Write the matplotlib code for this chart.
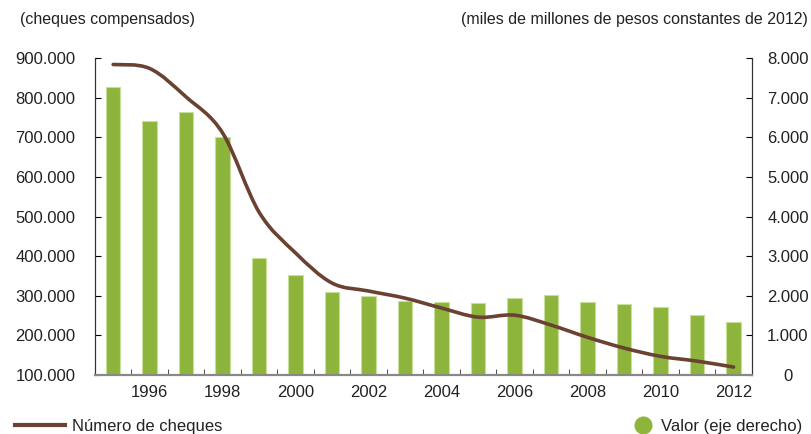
import numpy as np
import matplotlib
matplotlib.use("Agg")
import matplotlib.pyplot as plt
from matplotlib.path import Path
from matplotlib.patches import PathPatch
from matplotlib.lines import Line2D
from matplotlib.ticker import FuncFormatter

plt.rcParams["font.family"] = ["Liberation Sans", "DejaVu Sans"]

# datos
years = list(range(1995, 2013))
cheques = [884000, 874000, 802000, 711000, 511000, 408000, 332000, 312000, 294000,
           269000, 246000, 251000, 226000, 195000, 168000, 147000, 135000, 120000]
valor = [7280, 6410, 6640, 6020, 2950, 2520, 2100, 1990, 1870,
         1840, 1820, 1950, 2010, 1840, 1790, 1710, 1510, 1350]
year_labels = [1996, 1998, 2000, 2002, 2004, 2006, 2008, 2010, 2012]

bar_color = "#8db53c"
line_color = "#6b4232"
text_color = "#222222"


def dotted(v, pos):
    return f"{int(round(v)):,}".replace(",", ".")


fig = plt.figure(figsize=(8.11, 4.34), dpi=100)
ax = fig.add_axes([0.117, 0.136, 0.81, 0.73])
ax2 = ax.twinx()

# barras en el eje derecho
ax2.bar(years, valor, width=0.4, color=bar_color, edgecolor="#c8df9a", linewidth=0.8, zorder=1)
ax2.set_ylim(0, 8000)
ax2.set_yticks(range(0, 8001, 1000))
ax2.set_yticklabels([dotted(v, None) for v in range(0, 8001, 1000)], ha="center")

# linea suavizada (Catmull-Rom -> Bezier) en el eje izquierdo
x = np.array(years, dtype=float)
y = np.array(cheques, dtype=float)
px = np.concatenate([[x[0]], x, [x[-1]]])
py = np.concatenate([[y[0]], y, [y[-1]]])
verts = [(x[0], y[0])]
codes = [Path.MOVETO]
for i in range(1, len(px) - 2):
    c1 = (px[i] + (px[i + 1] - px[i - 1]) / 6, py[i] + (py[i + 1] - py[i - 1]) / 6)
    c2 = (px[i + 1] - (px[i + 2] - px[i]) / 6, py[i + 1] - (py[i + 2] - py[i]) / 6)
    verts += [c1, c2, (px[i + 1], py[i + 1])]
    codes += [Path.CURVE4] * 3
ax.set_zorder(ax2.get_zorder() + 1)
ax.patch.set_visible(False)
ax.add_patch(PathPatch(Path(verts, codes), facecolor="none", edgecolor=line_color,
                       linewidth=2.6, capstyle="round"))
ax.set_ylim(100000, 900000)
ax.set_yticks(range(100000, 900001, 100000))
ax.yaxis.set_major_formatter(FuncFormatter(dotted))

ax.set_xlim(1994.5, 2012.5)
ax.set_xticks(year_labels)
ax.set_xticks(np.arange(1995.5, 2012.5, 1), minor=True)
ax.tick_params(axis="x", which="major", length=0, pad=7, labelsize=12, labelcolor=text_color)
ax.tick_params(axis="x", which="minor", direction="in", length=4, color="#333333")
ax.tick_params(axis="y", direction="in", length=4, pad=14, labelsize=12, labelcolor=text_color)
ax2.tick_params(axis="y", direction="in", length=4, pad=26, labelsize=12, labelcolor=text_color)

for a in (ax, ax2):
    a.spines["top"].set_visible(False)
    a.spines["bottom"].set_color("#888888")
    a.spines["bottom"].set_linewidth(1.5)
    a.spines["left"].set_color("#333333")
    a.spines["right"].set_color("#333333")

fig.text(0.025, 0.955, "(cheques compensados)", fontsize=11.5, color=text_color, va="center")
fig.text(0.996, 0.955, "(miles de millones de pesos constantes de 2012)", fontsize=11.5,
         color=text_color, va="center", ha="right")

# leyendas
h1 = Line2D([], [], color=line_color, linewidth=3)
h2 = Line2D([], [], color=bar_color, marker="o", linestyle="none", markersize=12)
fig.legend([h1], ["Número de cheques"], loc="lower left", bbox_to_anchor=(0.0, -0.035),
           frameon=False, fontsize=12, handlelength=3.0, handletextpad=0.4, labelcolor=text_color)
fig.legend([h2], ["Valor (eje derecho)"], loc="lower right", bbox_to_anchor=(1.008, -0.035),
           frameon=False, fontsize=12, handletextpad=0.1, labelcolor=text_color)

fig.savefig("out.png", dpi=100)
